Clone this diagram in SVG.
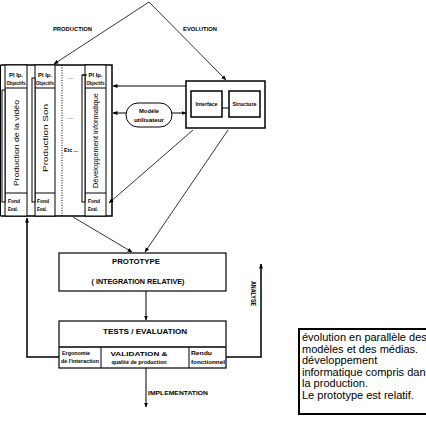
<svg xmlns="http://www.w3.org/2000/svg" width="426" height="421" viewBox="0 0 426 421">
<defs>
<style>
.ln{fill:none;stroke:#000;stroke-width:1}
.bx{fill:#fff;stroke:#000;stroke-width:1}
.th{fill:none;stroke:#000;stroke-width:1.5}
.dg{fill:none;stroke:#000;stroke-width:0.8}
.t{font-family:"Liberation Sans",Arial,sans-serif;font-weight:bold;fill:#000}
.n{font-family:"Liberation Sans",Arial,sans-serif;fill:#000}
</style>
<marker id="ah" viewBox="0 0 10 10" refX="9" refY="5" markerWidth="5" markerHeight="5" orient="auto-start-reverse" markerUnits="userSpaceOnUse">
<path d="M0,1 L10,5 L0,9 z" fill="#000"/>
</marker>
</defs>
<rect width="426" height="421" fill="#fff"/>

<g id="connectors">
<path class="dg" d="M149,2 L54,64" marker-end="url(#ah)"/>
<path class="dg" d="M149,2 L226,80" marker-end="url(#ah)"/>
<path class="ln" d="M186,86 L113,86" marker-end="url(#ah)"/>
<path class="ln" d="M126,113 L113,113" marker-end="url(#ah)"/>
<path class="ln" d="M172,113 L186,113" marker-end="url(#ah)"/>
<path class="dg" d="M193,130 L109,203" marker-end="url(#ah)"/>
<path class="dg" d="M228,130 L145,252" marker-end="url(#ah)"/>
<path class="dg" d="M73,217 L132,252" marker-end="url(#ah)"/>
<path class="ln" d="M146,291 L146,320" marker-end="url(#ah)"/>
<path class="ln" d="M146,368 L146,407" marker-end="url(#ah)"/>
<path class="th" d="M59,357 L27,357 L27,218" marker-end="url(#ah)"/>
<path class="th" d="M226,357 L261,357 L261,264" marker-end="url(#ah)"/>
<text class="t" x="53" y="31" font-size="5.5" textLength="39" lengthAdjust="spacingAndGlyphs">PRODUCTION</text>
<text class="t" x="183" y="31" font-size="5.5" textLength="34" lengthAdjust="spacingAndGlyphs">EVOLUTION</text>
<text class="t" x="148" y="395" font-size="6" textLength="60" lengthAdjust="spacingAndGlyphs">IMPLEMENTATION</text>
<text class="t" transform="translate(251,281) rotate(90)" font-size="7" textLength="25" lengthAdjust="spacingAndGlyphs">ANALYSE</text>
</g>

<g id="production-frame">
<path class="th" d="M0.5,65 L112,65 L112,216 L0.5,216"/>
<line class="ln" x1="0.5" y1="65" x2="0.5" y2="216"/>
</g>

<g id="col-video">
<rect class="bx" x="5" y="65" width="22" height="151"/>
<line class="ln" x1="5" y1="88" x2="27" y2="88"/>
<line class="ln" x1="5" y1="193" x2="27" y2="193"/>
<rect class="bx" x="2" y="90" width="3" height="112"/>
<text class="t" x="16" y="77" font-size="5" text-anchor="middle" textLength="14" lengthAdjust="spacingAndGlyphs">Pl Ip.</text>
<text class="t" x="16" y="85" font-size="5" text-anchor="middle" textLength="19" lengthAdjust="spacingAndGlyphs">Objectifs</text>
<text class="n" transform="translate(19,186) rotate(-90)" font-size="8" textLength="86" lengthAdjust="spacingAndGlyphs">Production de la vidéo</text>
<text class="t" x="8" y="203" font-size="5" textLength="12" lengthAdjust="spacingAndGlyphs">Fond</text>
<text class="t" x="8" y="211" font-size="5" textLength="10" lengthAdjust="spacingAndGlyphs">Eval.</text>
</g>

<g id="col-son">
<rect class="bx" x="35" y="65" width="20" height="151"/>
<line class="ln" x1="35" y1="88" x2="55" y2="88"/>
<line class="ln" x1="35" y1="193" x2="55" y2="193"/>
<rect class="bx" x="32" y="78" width="3" height="124"/>
<text class="t" x="45" y="77" font-size="5" text-anchor="middle" textLength="14" lengthAdjust="spacingAndGlyphs">Pl Ip.</text>
<text class="t" x="45" y="85" font-size="5" text-anchor="middle" textLength="18" lengthAdjust="spacingAndGlyphs">Objectifs</text>
<text class="n" transform="translate(48,172) rotate(-90)" font-size="7.5" textLength="68" lengthAdjust="spacingAndGlyphs">Production Son</text>
<text class="t" x="37" y="203" font-size="5" textLength="12" lengthAdjust="spacingAndGlyphs">Fond</text>
<text class="t" x="37" y="211" font-size="5" textLength="10" lengthAdjust="spacingAndGlyphs">Eval.</text>
</g>

<g id="col-etc">
<line x1="62" y1="65" x2="62" y2="216" stroke="#000" stroke-width="1" stroke-dasharray="1,1.5"/>
<text class="n" x="67" y="79" font-size="6">....</text>
<text class="n" x="67" y="119" font-size="6">....</text>
<text class="t" x="64" y="152" font-size="5" textLength="14" lengthAdjust="spacingAndGlyphs">Etc ...</text>
</g>

<g id="col-info">
<rect class="bx" x="85" y="65" width="21" height="151"/>
<line class="ln" x1="85" y1="88" x2="106" y2="88"/>
<line class="ln" x1="85" y1="193" x2="106" y2="193"/>
<rect class="bx" x="82" y="75" width="3" height="127"/>
<line class="ln" x1="82" y1="75" x2="87" y2="75"/>
<text class="t" x="95.5" y="77" font-size="5" text-anchor="middle" textLength="14" lengthAdjust="spacingAndGlyphs">Pl Ip.</text>
<text class="t" x="95.5" y="85" font-size="5" text-anchor="middle" textLength="18" lengthAdjust="spacingAndGlyphs">Objectifs</text>
<text class="n" transform="translate(98,188) rotate(-90)" font-size="8" textLength="95" lengthAdjust="spacingAndGlyphs">Développement informatique</text>
<text class="t" x="88" y="203" font-size="5" textLength="12" lengthAdjust="spacingAndGlyphs">Fond</text>
<text class="t" x="88" y="211" font-size="5" textLength="10" lengthAdjust="spacingAndGlyphs">Eval.</text>
</g>

<g id="modele-utilisateur">
<rect class="bx" x="126" y="103" width="46" height="24" rx="12" ry="12"/>
<text class="t" x="149" y="113" font-size="6" text-anchor="middle" textLength="20" lengthAdjust="spacingAndGlyphs">Modèle</text>
<text class="t" x="149" y="122" font-size="6" text-anchor="middle" textLength="30" lengthAdjust="spacingAndGlyphs">utilisateur</text>
</g>

<g id="evolution-box">
<rect x="186" y="81" width="79" height="47" fill="#fff" stroke="#000" stroke-width="1.5"/>
<line class="ln" x1="222" y1="108" x2="229" y2="108"/>
</g>
<g id="interface">
<rect x="191" y="91" width="31" height="26" fill="#fff" stroke="#000" stroke-width="1.5"/>
<text class="t" x="206.5" y="106" font-size="5.5" text-anchor="middle" textLength="22" lengthAdjust="spacingAndGlyphs">Interface</text>
</g>
<g id="structure">
<rect x="229" y="91" width="31" height="26" fill="#fff" stroke="#000" stroke-width="1.5"/>
<text class="t" x="244.5" y="106" font-size="5.5" text-anchor="middle" textLength="24" lengthAdjust="spacingAndGlyphs">Structure</text>
</g>

<g id="prototype">
<rect x="59" y="253" width="167" height="38" fill="#fff" stroke="#000" stroke-width="1.2"/>
<text class="t" x="136" y="264" font-size="6.5" text-anchor="middle" textLength="48" lengthAdjust="spacingAndGlyphs">PROTOTYPE</text>
<text class="t" x="138" y="284" font-size="6.5" text-anchor="middle" textLength="93" lengthAdjust="spacingAndGlyphs">( INTEGRATION RELATIVE)</text>
</g>

<g id="tests">
<rect x="59" y="321" width="167" height="47" fill="#fff" stroke="#000" stroke-width="1.2"/>
<line class="th" x1="59" y1="347" x2="226" y2="347"/>
<line class="ln" x1="101" y1="347" x2="101" y2="368"/>
<line class="ln" x1="189" y1="347" x2="189" y2="368"/>
<text class="t" x="145" y="334" font-size="6.5" text-anchor="middle" textLength="84" lengthAdjust="spacingAndGlyphs">TESTS / EVALUATION</text>
<text class="t" x="76" y="355" font-size="4.5" text-anchor="middle" textLength="28" lengthAdjust="spacingAndGlyphs">Ergonomie</text>
<text class="t" x="80" y="363" font-size="4.5" text-anchor="middle" textLength="38" lengthAdjust="spacingAndGlyphs">de l'interaction</text>
<text class="t" x="139" y="356" font-size="6" text-anchor="middle" textLength="57" lengthAdjust="spacingAndGlyphs">VALIDATION &amp;</text>
<text class="t" x="139" y="364" font-size="4.5" text-anchor="middle" textLength="55" lengthAdjust="spacingAndGlyphs">qualité de production</text>
<text class="t" x="191" y="355" font-size="5" textLength="21" lengthAdjust="spacingAndGlyphs">Rendu</text>
<text class="t" x="191" y="364" font-size="5" textLength="34" lengthAdjust="spacingAndGlyphs">fonctionnel</text>
</g>

<g id="note">
<rect x="299" y="329" width="135" height="85" fill="#fff" stroke="#000" stroke-width="2"/>
<text class="n" font-size="11">
<tspan x="302" y="341">évolution en parallèle des</tspan>
<tspan x="302" y="352.5">modèles et des médias.</tspan>
<tspan x="302" y="364">développement</tspan>
<tspan x="302" y="375.5">informatique compris dans</tspan>
<tspan x="302" y="387">la production.</tspan>
<tspan x="302" y="398.5">Le prototype est relatif.</tspan>
</text>
</g>
</svg>
